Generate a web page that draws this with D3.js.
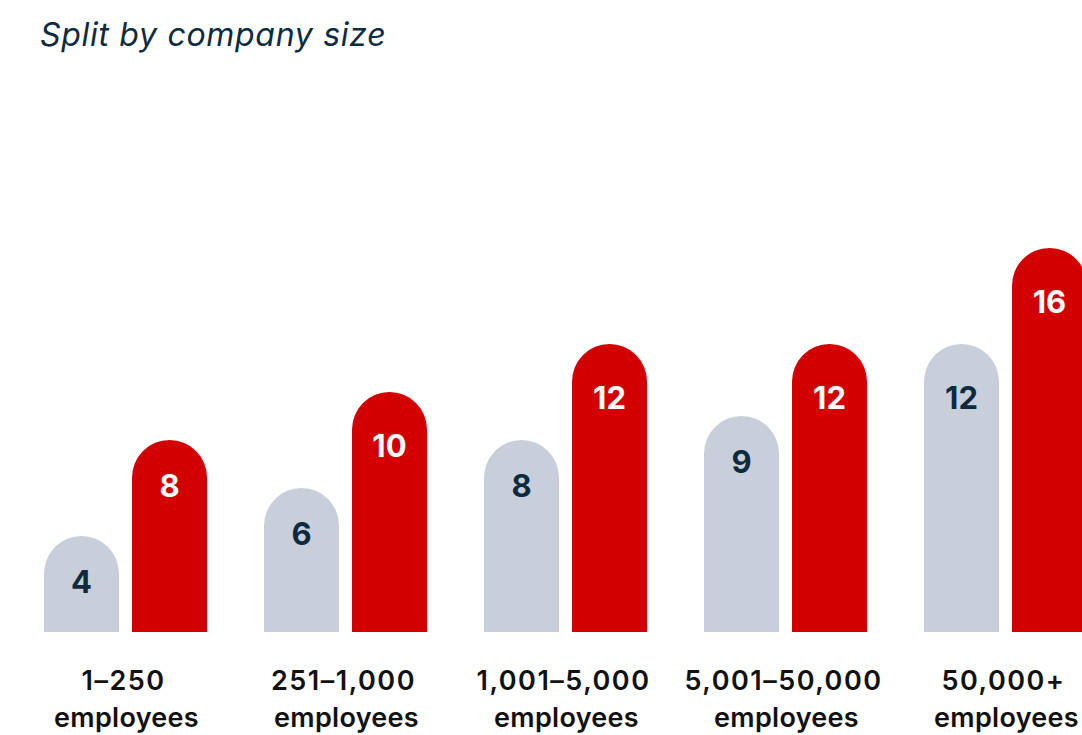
<!DOCTYPE html>
<html>
<head>
<meta charset="utf-8">
<script src="https://cdn.jsdelivr.net/npm/d3@7"></script>
<style>
  html, body { margin: 0; padding: 0; background: #ffffff; }
  svg { display: block; }
</style>
</head>
<body>
<div id="chart"></div>
<script>
// Company-size buckets (two label lines each) and the two series.
const categories = ["1–250", "251–1,000", "1,001–5,000", "5,001–50,000", "50,000+"];
const categorySub = ["employees", "employees", "employees", "employees", "employees"];
const seriesNames = ["previous", "current"];
const previousValues = [4, 6, 8, 9, 12];
const currentValues = [8, 10, 12, 12, 16];

const width = 1082, height = 735;
const colors = { previous: "#c8cfdb", current: "#d20000" };
const labelColors = { previous: "#0d2b3e", current: "#ffffff" };
const font = "Inter, 'Noto Sans', sans-serif";

const svg = d3.select("#chart").append("svg")
  .attr("width", width).attr("height", height);

svg.append("text")
  .attr("x", 40).attr("y", 46)
  .attr("font-family", font)
  .attr("font-style", "italic")
  .attr("font-size", 32)
  .attr("letter-spacing", 0.7)
  .attr("fill", "#0d2b3e")
  .text("Split by company size");

const x0 = d3.scaleBand().domain(categories).range([44, 1087])
  .paddingInner(57 / 220).paddingOuter(0);
const x1 = d3.scaleBand().domain(seriesNames).range([0, x0.bandwidth()])
  .paddingInner(13 / 88).paddingOuter(0);
const y = d3.scaleLinear().domain([0, 16]).range([632, 248]);

const rows = categories.map((c, i) => ({
  cat: c, sub: categorySub[i],
  bars: [
    { key: "previous", value: previousValues[i] },
    { key: "current", value: currentValues[i] }
  ]
}));

// Bar with a fully rounded top
function pillPath(x, w, top, base) {
  const r = w / 2;
  return `M${x},${base} L${x},${top + r} A${r},${r} 0 0 1 ${x + w},${top + r} L${x + w},${base} Z`;
}

const g = svg.selectAll("g.group").data(rows).join("g")
  .attr("class", "group")
  .attr("transform", d => `translate(${x0(d.cat)},0)`);

const bar = g.selectAll("g.bar").data(d => d.bars).join("g").attr("class", "bar");

bar.append("path")
  .attr("d", d => pillPath(x1(d.key), x1.bandwidth(), y(d.value), y(0)))
  .attr("fill", d => colors[d.key]);

bar.append("text")
  .attr("x", d => x1(d.key) + x1.bandwidth() / 2)
  .attr("y", d => y(d.value) + (String(d.value).length > 1 ? 54 : 46))
  .attr("dy", "0.36em")
  .attr("text-anchor", "middle")
  .attr("font-family", font)
  .attr("font-weight", 700)
  .attr("font-size", 31)
  .attr("fill", d => labelColors[d.key])
  .text(d => d.value);

// Category labels below the baseline
const lab = g.append("text")
  .attr("text-anchor", "middle")
  .attr("font-family", font)
  .attr("font-weight", 600)
  .attr("font-size", 27)
  .attr("fill", "#111111");
lab.append("tspan")
  .attr("x", x0.bandwidth() / 2 - 2).attr("y", 690)
  .attr("letter-spacing", 1.5)
  .text(d => d.cat);
lab.append("tspan")
  .attr("x", x0.bandwidth() / 2 + 1).attr("y", 727)
  .attr("letter-spacing", 0.3)
  .text(d => d.sub);
</script>
</body>
</html>
